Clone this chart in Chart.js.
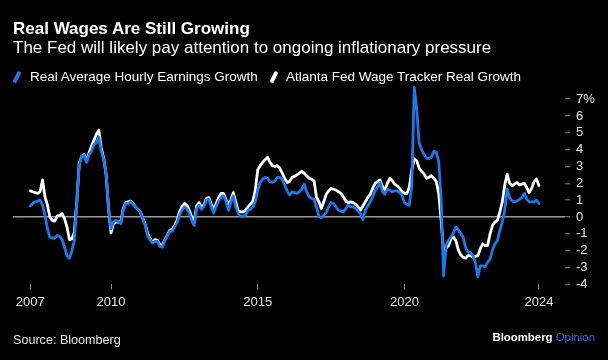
<!DOCTYPE html>
<html>
<head>
<meta charset="utf-8">
<script src="https://cdn.jsdelivr.net/npm/chart.js@4.4.1/dist/chart.umd.min.js"></script>
<style>
  html, body { margin: 0; padding: 0; background: #000; }
  #wrap { position: relative; width: 608px; height: 360px; background: #000; overflow: hidden;
          font-family: "Liberation Sans", Arial, Helvetica, sans-serif; color: #fff; }
  #chart { position: absolute; left: 0; top: 0; }
  .txt { position: absolute; white-space: nowrap; line-height: 1; }
  #title { left: 13px; top: 20px; font-size: 17px; font-weight: bold; }
  #subtitle { left: 13px; top: 39px; font-size: 17px; }
  .leg { top: 70px; font-size: 13.5px; }
  .key { position: absolute; top: 71px; width: 3.5px; height: 12px; transform: rotate(27deg); border-radius: 1px; }
  #source { left: 13px; top: 334px; font-size: 12.6px; color: #e6e6e6; }
  #brand { right: 13px; top: 332px; font-size: 11.4px; font-weight: bold; }
  #brand span { color: #1f78e8; font-weight: normal; }
</style>
</head>
<body>
<div id="wrap">
  <canvas id="chart" width="608" height="360"></canvas>
  <div id="title" class="txt">Real Wages Are Still Growing</div>
  <div id="subtitle" class="txt">The Fed will likely pay attention to ongoing inflationary pressure</div>
  <div class="key" style="left:15px; background:#1f78e8"></div>
  <div class="txt leg" style="left:30px">Real Average Hourly Earnings Growth</div>
  <div class="key" style="left:272px; background:#fff"></div>
  <div class="txt leg" style="left:286px">Atlanta Fed Wage Tracker Real Growth</div>
  <div id="source" class="txt">Source: Bloomberg</div>
  <div id="brand" class="txt">Bloomberg <span>Opinion</span></div>
</div>
<script>
// monthly series, first point = March 2007
const startYear = 2007;
const startMonth = 3;

const seriesNames = ["Real Average Hourly Earnings Growth", "Atlanta Fed Wage Tracker Real Growth"];

const realAhe = [
  0.65, 0.8, 0.9, 0.95, 1.0, 0.7, 0.1, -0.7, -1.2, -1.25,
  -1.25, -1.1, -1.15, -1.35, -1.8, -2.3, -2.45, -2.0, -1.4, 0.9, 3.1, 3.6,
  3.65, 3.25, 3.7, 3.9, 4.3, 4.4, 4.75, 3.9, 3.45, 2.6, 0.5, -0.7,
  -0.3, -0.2, -0.3, -0.4, 0.4, 0.8, 0.8, 0.9, 0.75, 0.6, 0.45, 0.3,
  -0.1, -0.5, -1.1, -1.35, -1.55, -1.45, -1.45, -1.75, -1.8, -1.4, -1.15, -0.85,
  -0.85, -0.6, -0.35, 0.1, 0.4, 0.6, 0.5, 0.2, -0.2, -0.5, 0.5, 0.7,
  0.45, 0.6, 1.0, 1.05, 0.6, 0.25, 0.65, 0.95, 1.15, 1.25, 0.95, 0.4,
  0.9, 1.25, 0.6, 0.2, 0.05, 0.05, 0.1, 0.4, 0.45, 0.6, 0.9, 1.6,
  2.05, 2.25, 2.35, 2.3, 2.1, 2.05, 2.15, 2.35, 2.35, 2.25, 1.9, 1.55,
  1.3, 1.5, 1.45, 1.4, 1.5, 1.65, 1.95, 1.5, 1.2, 1.1, 1.05, 0.6,
  0.05, -0.05, 0.1, 0.25, 0.6, 0.85, 0.8, 0.6, 0.4, 0.35, 0.3, 0.5,
  0.7, 0.6, 0.6, 0.5, 0.35, 0.2, -0.15, 0.4, 0.65, 0.9, 1.2, 1.55,
  1.8, 2.05, 1.5, 1.35, 1.65, 1.6, 1.5, 1.55, 1.55, 1.45, 1.3, 0.85,
  0.75, 0.7, 1.9, 7.7, 6.4, 4.4, 4.0, 3.7, 3.5, 3.45, 3.55, 3.9,
  3.85, 3.3, 1.0, -3.5, -1.7, -1.4, -1.2, -0.95, -0.6, -0.75, -1.0, -1.2,
  -1.8, -2.1, -2.1, -2.3, -2.7, -3.55, -2.9, -2.9, -2.95, -2.7, -2.5, -1.95,
  -1.6, -1.4, -0.8, -0.3, 0.4, 1.65, 1.15, 0.95, 0.9, 0.95, 1.05, 1.15,
  1.4, 1.05, 0.9, 0.9, 0.9, 1.0, 0.8
];

const atlantaFed = [
  1.55, 1.5, 1.45, 1.4, 1.5, 2.2, 1.2, 0.7, 0.0, -0.2,
  -0.25, 0.05, 0.1, 0.2, -0.1, -0.6, -1.35, -1.3, -0.9, 0.9, 3.2, 3.6,
  3.7, 3.3, 3.8, 4.2, 4.55, 4.9, 5.15, 4.1, 3.5, 2.5, 0.5, -0.95,
  -0.4, -0.3, -0.3, -0.3, 0.5, 0.85, 0.9, 0.95, 0.8, 0.6, 0.45, 0.3,
  -0.1, -0.45, -1.0, -1.3, -1.5, -1.35, -1.4, -1.65, -1.7, -1.35, -1.1, -0.8,
  -0.75, -0.5, -0.2, 0.3, 0.6, 0.8, 0.7, 0.4, 0.0, -0.3, 0.65, 0.85,
  0.6, 0.7, 1.1, 1.15, 0.75, 0.45, 0.8, 1.15, 1.4, 1.4, 1.05, 0.75,
  1.0, 1.45, 0.9, 0.35, 0.3, 0.3, 0.4, 0.6, 0.75, 0.95, 1.6, 2.8,
  3.05, 3.25, 3.4, 3.55, 3.25, 3.05, 3.0, 3.05, 2.9, 2.6, 2.3, 2.05,
  2.1, 2.35, 2.4, 2.5, 2.6, 2.7, 2.6, 2.45, 2.3, 2.25, 2.15, 1.2,
  0.9, 0.5, 0.9, 1.35, 1.55, 1.7, 1.65, 1.6, 1.5, 1.4, 1.2, 0.95,
  0.85, 0.9, 0.85, 0.75, 0.6, 0.4, 0.65, 0.9, 1.15, 1.35, 1.7, 2.0,
  2.1, 2.2, 1.8, 1.6, 2.0, 2.3, 2.15, 1.95, 1.85, 1.7, 1.5, 1.4,
  1.4, 1.8, 2.8, 3.45, 3.35, 2.9, 2.7, 2.55, 2.3, 2.35, 2.45, 2.3,
  2.1, 1.4, -0.2, -2.1, -1.85, -1.7, -1.3, -1.2, -1.4, -1.95, -2.25, -2.4,
  -2.45, -2.3, -2.3, -2.4, -2.35, -2.3, -1.9, -1.6, -1.7, -1.7, -1.0, -0.5,
  -0.3, -0.2, 0.3, 0.9, 1.9, 2.55, 2.0, 1.85, 1.95, 2.05, 1.9, 1.95,
  2.0, 1.75, 1.45, 1.7, 2.1, 2.25, 1.85
];

const yTicks = [-4, -3, -2, -1, 0, 1, 2, 3, 4, 5, 6, 7];
const xTickYears = [2010, 2015, 2020];
const xTickLabels = ["2007", "2010", "2015", "2020", "2024"];

const BLUE = "#1f78e8";
const FONT = "'Liberation Sans', Arial, Helvetica, sans-serif";

// month-end positions as fractional years
const dates = realAhe.map((_, i) => {
  const m = startMonth + i;
  return startYear + m / 12;
});
const xTickValues = [dates[0], ...xTickYears, dates[dates.length - 1]];

new Chart(document.getElementById("chart"), {
  type: "line",
  data: {
    datasets: [
      {
        label: seriesNames[0],
        data: realAhe.map((v, i) => ({ x: dates[i], y: v })),
        borderColor: BLUE,
        backgroundColor: BLUE
      },
      {
        label: seriesNames[1],
        data: atlantaFed.map((v, i) => ({ x: dates[i], y: v })),
        borderColor: "#ffffff",
        backgroundColor: "#ffffff"
      }
    ]
  },
  options: {
    responsive: false,
    animation: false,
    devicePixelRatio: 1,
    layout: { padding: { left: 13, top: 84, right: 0, bottom: 0 } },
    plugins: {
      legend: { display: false },
      tooltip: { enabled: false }
    },
    elements: {
      point: { radius: 0 },
      line: { tension: 0, borderWidth: 2.8, borderJoinStyle: "round", borderCapStyle: "round" }
    },
    scales: {
      x: {
        type: "linear",
        min: 2006.66,
        max: 2025.47,
        afterFit: s => { s.height = 360 - 284.3; },
        afterBuildTicks: s => { s.ticks = xTickValues.map(v => ({ value: v })); },
        ticks: {
          callback: (v, i) => xTickLabels[i],
          color: "#e8e8e8",
          font: { family: FONT, size: 13 },
          padding: 5,
          maxRotation: 0,
          autoSkip: false
        },
        grid: { drawOnChartArea: false, drawTicks: true, tickLength: 5, tickColor: "#8a8a8a" },
        border: { display: false }
      },
      y: {
        position: "right",
        min: -4,
        max: 7.9,
        afterFit: s => { s.width = 43; },
        afterBuildTicks: s => { s.ticks = yTicks.map(v => ({ value: v })); },
        ticks: {
          callback: v => (v === 7 ? "7%" : String(v)),
          color: "#e8e8e8",
          font: { family: FONT, size: 13 },
          padding: 6,
          autoSkip: false
        },
        grid: {
          color: ctx => (ctx.tick && ctx.tick.value === 0 ? "#9a9a9a" : "rgba(0,0,0,0)"),
          lineWidth: 1.5,
          drawTicks: true,
          tickLength: 5,
          tickColor: "#8a8a8a",
          tickWidth: 1
        },
        border: { display: false }
      }
    }
  }
});
</script>
</body>
</html>
